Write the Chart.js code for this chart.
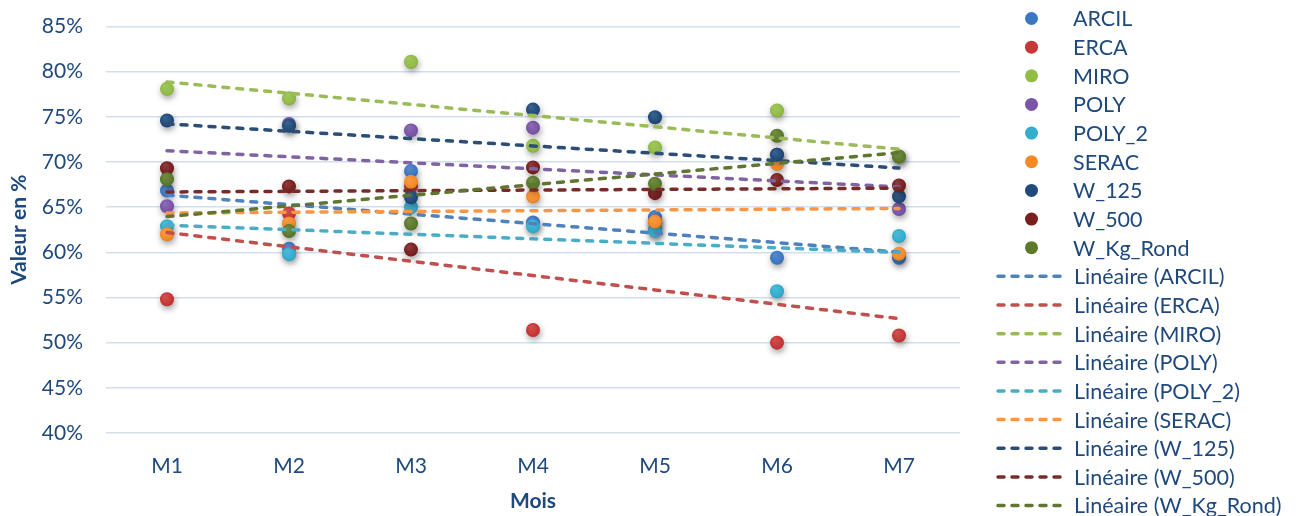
<!DOCTYPE html>
<html lang="fr">
<head>
<meta charset="utf-8">
<title>Valeur en % par mois</title>
<script src="https://cdn.jsdelivr.net/npm/chart.js@4.4.1/dist/chart.umd.min.js"></script>
<style>
  html, body { margin: 0; padding: 0; background: #ffffff; }
  #wrap { position: relative; width: 1303px; height: 516px; }
</style>
</head>
<body>
<div id="wrap"><canvas id="chart" width="1303" height="516"></canvas></div>
<script>
// Months on the horizontal axis
const categories = ['M1', 'M2', 'M3', 'M4', 'M5', 'M6', 'M7'];

// Series names (legend order)
const seriesNames = ['ARCIL', 'ERCA', 'MIRO', 'POLY', 'POLY_2', 'SERAC', 'W_125', 'W_500', 'W_Kg_Rond'];

// Monthly values, in %
const ARCIL     = [66.85, 60.4, 69.0, 63.3, 63.9, 59.4, 59.4];
const ERCA      = [54.8, 64.3, 67.3, 51.4, 63.4, 50.0, 50.8];
const MIRO      = [78.1, 77.05, 81.1, 71.8, 71.6, 75.7, 70.6];
const POLY      = [65.1, 74.2, 73.5, 73.8, 62.5, 70.8, 64.8];
const POLY_2    = [62.9, 59.8, 65.0, 62.9, 62.4, 55.7, 61.8];
const SERAC     = [62.0, 63.2, 67.8, 66.2, 63.4, 69.8, 59.85];
const W_125     = [74.6, 74.0, 66.1, 75.8, 74.95, 70.8, 66.2];
const W_500     = [69.3, 67.3, 60.3, 69.4, 66.55, 68.0, 67.4];
const W_Kg_Rond = [68.1, 62.35, 63.2, 67.7, 67.6, 72.9, 70.6];

const seriesValues = [ARCIL, ERCA, MIRO, POLY, POLY_2, SERAC, W_125, W_500, W_Kg_Rond];

// Y axis ticks (%)
const yTicks = [40, 45, 50, 55, 60, 65, 70, 75, 80, 85];

// Marker colours and trend-line colours per series
const markerColors = ['#3b78c4', '#c83636', '#92bd45', '#7a55a8', '#33aecf', '#f68b26', '#1f4a7c', '#7a1e1e', '#5b7a2a'];
const trendColors  = ['#4f81bd', '#c0504d', '#9bbb59', '#8064a2', '#4bacc6', '#f79646', '#2c4d75', '#772c2a', '#5f7530'];

const TEXT_COLOR = '#1f497d';
const FONT_FAMILY = 'Lato, "Open Sans", sans-serif';

// Least-squares straight line through a series, evaluated at each category
function linearFit(values) {
  const pts = values.map((v, i) => [i + 1, v]).filter(p => p[1] !== null);
  const n = pts.length;
  const mx = pts.reduce((s, p) => s + p[0], 0) / n;
  const my = pts.reduce((s, p) => s + p[1], 0) / n;
  let sxy = 0, sxx = 0;
  pts.forEach(p => { sxy += (p[0] - mx) * (p[1] - my); sxx += (p[0] - mx) ** 2; });
  const slope = sxy / sxx;
  return values.map((_, i) => my + slope * (i + 1 - mx));
}

function shade(hex, f) {
  const n = parseInt(hex.slice(1), 16);
  let r = (n >> 16) & 255, g = (n >> 8) & 255, b = n & 255;
  const t = f < 0 ? 0 : 255, p = Math.abs(f);
  r = Math.round(r + (t - r) * p); g = Math.round(g + (t - g) * p); b = Math.round(b + (t - b) * p);
  return 'rgb(' + r + ',' + g + ',' + b + ')';
}

// Slightly domed marker fill
function markerFill(color) {
  return function (ctx) {
    const chart = ctx.chart;
    if (ctx.type !== 'data' || !chart.scales.x || !chart.scales.y) return color;
    const x = chart.scales.x.getPixelForValue(ctx.dataIndex);
    const y = chart.scales.y.getPixelForValue(ctx.raw);
    if (!isFinite(x) || !isFinite(y)) return color;
    const g = chart.ctx.createRadialGradient(x - 2, y - 3, 1, x, y, 8);
    g.addColorStop(0, shade(color, 0.12));
    g.addColorStop(0.7, color);
    g.addColorStop(1, shade(color, -0.15));
    return g;
  };
}

const datasets = [];
seriesNames.forEach((name, i) => {
  datasets.push({
    label: name,
    kind: 'points',
    data: seriesValues[i],
    showLine: false,
    pointRadius: 7,
    pointHoverRadius: 7,
    pointBorderWidth: 0,
    pointBackgroundColor: markerFill(markerColors[i]),
    backgroundColor: markerColors[i],
    borderColor: markerColors[i],
    order: 100 - i
  });
});
seriesNames.forEach((name, i) => {
  datasets.push({
    label: 'Linéaire (' + name + ')',
    kind: 'trend',
    data: linearFit(seriesValues[i]),
    borderColor: trendColors[i],
    backgroundColor: trendColors[i],
    borderWidth: 3.5,
    borderDash: [6, 8],
    borderCapStyle: 'round',
    pointRadius: 0,
    pointHoverRadius: 0,
    fill: false,
    tension: 0,
    order: 50 - i
  });
});

// Soft drop shadow under the markers
const markerShadow = {
  id: 'markerShadow',
  beforeDatasetDraw(chart, args) {
    const ds = chart.data.datasets[args.index];
    if (ds.kind !== 'points') return;
    const c = chart.ctx;
    c.save();
    c.shadowColor = 'rgba(0,0,0,0.38)';
    c.shadowBlur = 6;
    c.shadowOffsetX = 1;
    c.shadowOffsetY = 3;
  },
  afterDatasetDraw(chart, args) {
    const ds = chart.data.datasets[args.index];
    if (ds.kind !== 'points') return;
    chart.ctx.restore();
  }
};

// Legend on the right: markers first, then the linear trend lines
const sideLegend = {
  id: 'sideLegend',
  afterDraw(chart, args, opts) {
    const c = chart.ctx;
    c.save();
    c.font = opts.fontSize + 'px ' + FONT_FAMILY;
    c.textBaseline = 'middle';
    c.textAlign = 'left';
    chart.data.datasets.forEach((ds, k) => {
      const y = opts.top + k * opts.rowHeight;
      if (ds.kind === 'points') {
        c.beginPath();
        c.fillStyle = ds.backgroundColor;
        c.arc(opts.markerX, y, 6.5, 0, Math.PI * 2);
        c.fill();
      } else {
        c.beginPath();
        c.strokeStyle = ds.borderColor;
        c.lineWidth = 3.5;
        c.lineCap = 'round';
        c.setLineDash([6, 8]);
        c.moveTo(opts.lineX0, y);
        c.lineTo(opts.lineX1, y);
        c.stroke();
        c.setLineDash([]);
      }
      c.fillStyle = TEXT_COLOR;
      c.fillText(ds.label, ds.kind === 'points' ? opts.textX : opts.lineTextX, y + 1);
    });
    c.restore();
  }
};

new Chart(document.getElementById('chart'), {
  type: 'line',
  data: { labels: categories, datasets: datasets },
  plugins: [markerShadow, sideLegend],
  options: {
    responsive: false,
    animation: false,
    events: [],
    layout: { padding: { top: 26.5, right: 343, left: 0, bottom: 0 } },
    plugins: {
      legend: { display: false },
      tooltip: { enabled: false },
      sideLegend: {
        top: 18.5, rowHeight: 28.65, markerX: 1031.5, textX: 1073,
        lineX0: 998, lineX1: 1066, lineTextX: 1074, fontSize: 21.5
      }
    },
    scales: {
      x: {
        type: 'category',
        offset: true,
        grid: { display: false, drawTicks: false },
        border: { display: false },
        ticks: { color: TEXT_COLOR, font: { family: FONT_FAMILY, size: 21 }, padding: 21 },
        title: {
          display: true, text: 'Mois', color: TEXT_COLOR,
          font: { family: FONT_FAMILY, size: 21, weight: 'bold' },
          padding: { top: 0, bottom: 2 }
        },
        afterFit(axis) { axis.height = 83; }
      },
      y: {
        min: 40, max: 85,
        afterBuildTicks(axis) { axis.ticks = yTicks.map(v => ({ value: v })); },
        grid: { color: '#d2dff0', lineWidth: 1.6, drawTicks: false },
        border: { display: false },
        ticks: {
          color: TEXT_COLOR, font: { family: FONT_FAMILY, size: 21 }, padding: 23,
          callback: v => v + '%'
        },
        title: {
          display: true, text: 'Valeur en %', color: TEXT_COLOR,
          font: { family: FONT_FAMILY, size: 21, weight: 'bold' },
          padding: { top: 7, bottom: 0 }
        },
        afterFit(axis) {
          axis.width = 106;
          axis.paddingTop = 0;
          axis.paddingBottom = 0;
        }
      }
    }
  }
});
</script>
</body>
</html>
